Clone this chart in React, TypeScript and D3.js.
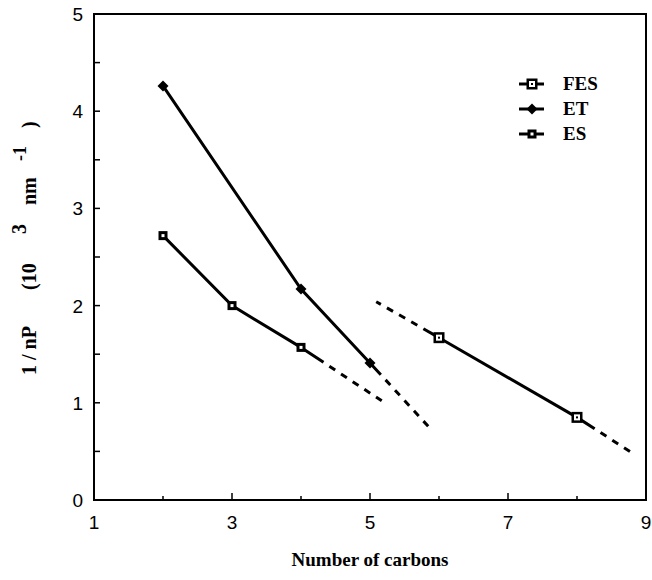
import * as d3 from "d3";

// ---- data ----
const etCarbons = [2, 4, 5];
const etValues = [4.26, 2.17, 1.41];

const esCarbons = [2, 3, 4];
const esValues = [2.72, 2.0, 1.57];

const fesCarbons = [6, 8];
const fesValues = [1.67, 0.85];

// extrapolated fits: [anchor point, far end]
const etFit = [[5, 1.41], [5.88, 0.73]];
const esFit = [[4, 1.57], [5.17, 1.02]];
const fesFitLeft = [[6, 1.67], [5.09, 2.04]];
const fesFitRight = [[8, 0.85], [8.83, 0.47]];

const xTickLabels = [1, 3, 5, 7, 9];
const xTicksAll = [2, 3, 4, 5, 6, 7, 8];
const yTickLabels = [0, 1, 2, 3, 4, 5];
const yTicksAll = [0.5, 1, 1.5, 2, 2.5, 3, 3.5, 4, 4.5];

const legendNames = ["FES", "ET", "ES"];

const W = 652;
const H = 580;
const margin = { left: 94, right: 6, top: 14, bottom: 80 };

const x = d3.scaleLinear().domain([1, 9]).range([margin.left, W - margin.right]);
const y = d3.scaleLinear().domain([0, 5]).range([H - margin.bottom, margin.top]);

const line = d3
  .line<number[]>()
  .x((d) => x(d[0]))
  .y((d) => y(d[1]));

const sans = "'Liberation Sans', Arial, sans-serif";
const serif = "'Liberation Serif', 'Times New Roman', serif";

function Diamond({ cx, cy }: { cx: number; cy: number }) {
  const r = 5.5;
  return (
    <path
      d={`M${cx},${cy - r}L${cx + r},${cy}L${cx},${cy + r}L${cx - r},${cy}Z`}
      fill="#000"
    />
  );
}

function EsSquare({ cx, cy }: { cx: number; cy: number }) {
  return (
    <g>
      <rect x={cx - 4.5} y={cy - 4.5} width={9} height={9} fill="#000" />
      <rect x={cx - 1.5} y={cy - 1.5} width={3} height={3} fill="#fff" />
    </g>
  );
}

function FesSquare({ cx, cy }: { cx: number; cy: number }) {
  return (
    <g>
      <rect x={cx - 5.5} y={cy - 5.5} width={11} height={11} fill="#000" />
      <rect x={cx - 3} y={cy - 3} width={6} height={6} fill="#fff" />
      <rect x={cx - 1} y={cy - 1} width={2} height={2} fill="#000" />
    </g>
  );
}

function FitLine({ pts, solid }: { pts: number[][]; solid: number }) {
  const pattern = [solid, 7];
  for (let i = 0; i < 20; i++) pattern.push(7, 7);
  return (
    <path
      d={line(pts) || ""}
      fill="none"
      stroke="#000"
      strokeWidth={3}
      strokeDasharray={pattern.join(" ")}
    />
  );
}

export default function App() {
  const etPts = etCarbons.map((c, i) => [c, etValues[i]]);
  const esPts = esCarbons.map((c, i) => [c, esValues[i]]);
  const fesPts = fesCarbons.map((c, i) => [c, fesValues[i]]);
  const [x0, x1] = x.range();
  const [y0, y1] = y.range();

  const legendY = [84, 109, 134];
  const markers = [FesSquare, Diamond, EsSquare];

  return (
    <svg
      width={W}
      height={H}
      style={{ position: "absolute", left: 0, top: 0, background: "#fff" }}
    >
      {/* frame */}
      <rect
        x={x0}
        y={y1}
        width={x1 - x0}
        height={y0 - y1}
        fill="none"
        stroke="#000"
        strokeWidth={2}
      />

      {/* inward ticks */}
      {xTicksAll.map((t) => (
        <line
          key={"xt" + t}
          x1={x(t)}
          x2={x(t)}
          y1={y0}
          y2={y0 - (t % 2 === 1 ? 7 : 4)}
          stroke="#000"
          strokeWidth={1.5}
        />
      ))}
      {yTicksAll.map((t) => (
        <line
          key={"yt" + t}
          x1={x0}
          x2={x0 + 6}
          y1={y(t)}
          y2={y(t)}
          stroke="#000"
          strokeWidth={1.5}
        />
      ))}

      {/* tick labels */}
      {xTickLabels.map((t) => (
        <text
          key={"xl" + t}
          x={x(t)}
          y={y0 + 29}
          textAnchor="middle"
          fontFamily={sans}
          fontSize={19}
        >
          {t}
        </text>
      ))}
      {yTickLabels.map((t) => (
        <text
          key={"yl" + t}
          x={x0 - 11}
          y={y(t) + 7}
          textAnchor="end"
          fontFamily={sans}
          fontSize={19}
        >
          {t}
        </text>
      ))}

      {/* axis titles */}
      <text
        x={(x0 + x1) / 2}
        y={566}
        textAnchor="middle"
        fontFamily={serif}
        fontWeight="bold"
        fontSize={19}
      >
        Number of carbons
      </text>
      <g
        transform="translate(36,0) rotate(-90)"
        fontFamily={serif}
        fontWeight="bold"
        fontSize={20}
      >
        <text x={-375} y={0}>1 / nP</text>
        <text x={-290} y={0}>(10</text>
        <text x={-234} y={-10}>3</text>
        <text x={-205} y={0}>nm</text>
        <text x={-161} y={-10} fontSize={18}>-1</text>
        <text x={-128} y={0}>)</text>
      </g>

      {/* extrapolated fits */}
      <FitLine pts={etFit} solid={16} />
      <FitLine pts={esFit} solid={27} />
      <FitLine pts={fesFitLeft} solid={18} />
      <FitLine pts={fesFitRight} solid={21} />

      {/* data lines */}
      {[etPts, esPts, fesPts].map((pts, i) => (
        <path
          key={"ln" + i}
          d={line(pts) || ""}
          fill="none"
          stroke="#000"
          strokeWidth={3}
        />
      ))}

      {/* markers */}
      {etPts.map((p, i) => (
        <Diamond key={"et" + i} cx={x(p[0])} cy={y(p[1])} />
      ))}
      {esPts.map((p, i) => (
        <EsSquare key={"es" + i} cx={x(p[0])} cy={y(p[1])} />
      ))}
      {fesPts.map((p, i) => (
        <FesSquare key={"fes" + i} cx={x(p[0])} cy={y(p[1])} />
      ))}

      {/* legend */}
      {legendNames.map((name, i) => {
        const M = markers[i];
        const ly = legendY[i];
        return (
          <g key={"lg" + name}>
            <line x1={519} x2={544} y1={ly} y2={ly} stroke="#000" strokeWidth={3} />
            <M cx={532} cy={ly} />
            <text
              x={563}
              y={ly + 6}
              fontFamily={serif}
              fontWeight="bold"
              fontSize={19}
            >
              {name}
            </text>
          </g>
        );
      })}
    </svg>
  );
}
